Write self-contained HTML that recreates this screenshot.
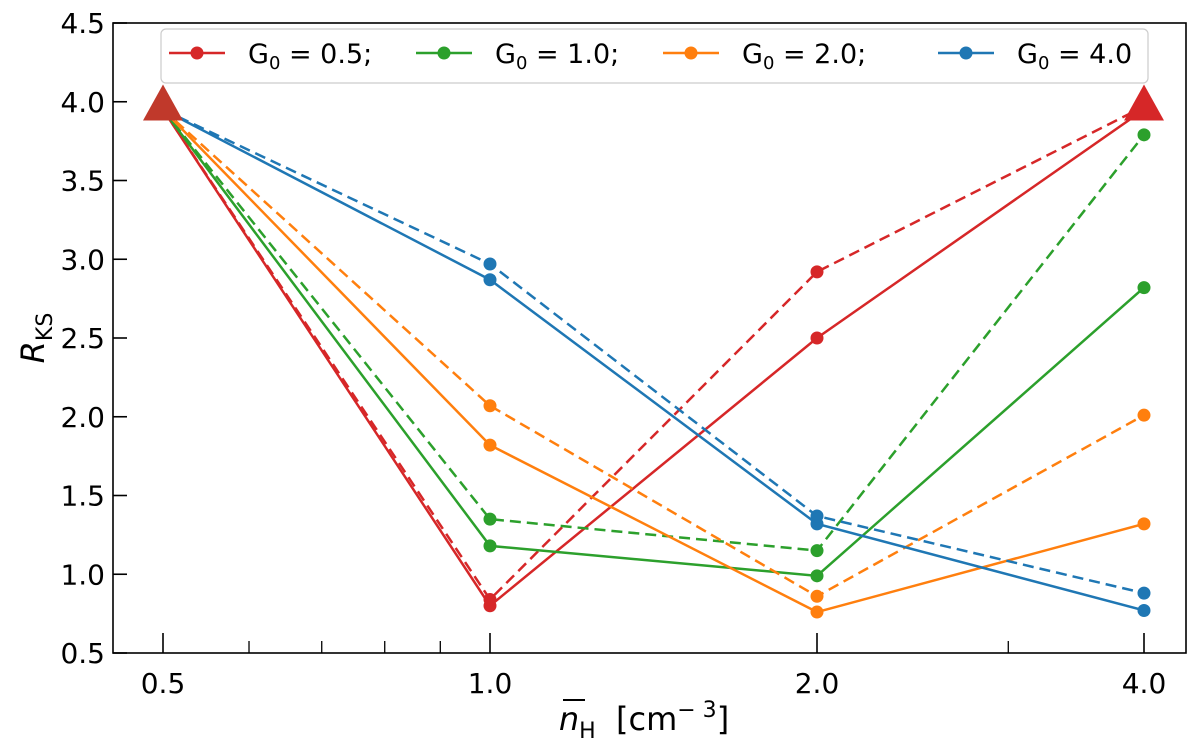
<!DOCTYPE html>
<html><head><meta charset="utf-8"><style>
body{margin:0;background:#fff;}
svg{display:block;font-family:"DejaVu Sans","Liberation Sans",sans-serif;}
</style></head><body>
<svg id="chart" width="1200" height="746" viewBox="0 0 1200 746" xmlns="http://www.w3.org/2000/svg">
<g id="plot"></g>
</svg>
<script>
const xCats=[0.5,1.0,2.0,4.0];
const xTickLabels=["0.5","1.0","2.0","4.0"];
const minorTicks=[0.6,0.7,0.8,0.9,3.0];
const yTicks=[0.5,1.0,1.5,2.0,2.5,3.0,3.5,4.0,4.5];
const yTickLabels=["0.5","1.0","1.5","2.0","2.5","3.0","3.5","4.0","4.5"];
const redSolid=[3.95,0.80,2.50,3.95];
const redDashed=[3.95,0.84,2.92,3.97];
const greenSolid=[3.95,1.18,0.99,2.82];
const greenDashed=[3.95,1.35,1.15,3.79];
const orangeSolid=[3.95,1.82,0.76,1.32];
const orangeDashed=[3.95,2.07,0.86,2.01];
const blueSolid=[3.95,2.87,1.32,0.77];
const blueDashed=[3.95,2.97,1.37,0.88];
const triangleX=[0.5,4.0];
const triangleY=[3.97,3.97];
const legendLabels=["0.5;","1.0;","2.0;","4.0"];

const NS="http://www.w3.org/2000/svg";
const L=113,R=1186,T=23,B=653;
const x=v=>163+327*Math.log2(v/0.5);
const y=v=>B-(v-0.5)*157.5;
const g=document.getElementById('plot');
function mk(t,a,p){const e=document.createElementNS(NS,t);for(const k in a)e.setAttribute(k,a[k]);(p||g).appendChild(e);return e;}

const series=[
 {d:redSolid,c:"#d62728",dash:null,n:"red-solid"},
 {d:redDashed,c:"#d62728",dash:"11,6",n:"red-dashed"},
 {d:greenSolid,c:"#2ca02c",dash:null,n:"green-solid"},
 {d:greenDashed,c:"#2ca02c",dash:"11,6",n:"green-dashed"},
 {d:orangeSolid,c:"#ff7f0e",dash:null,n:"orange-solid"},
 {d:orangeDashed,c:"#ff7f0e",dash:"11,6",n:"orange-dashed"},
 {d:blueSolid,c:"#1f77b4",dash:null,n:"blue-solid"},
 {d:blueDashed,c:"#1f77b4",dash:"11,6",n:"blue-dashed"}];
series.forEach(s=>{
 const pts=s.d.map((v,i)=>x(xCats[i])+","+y(v)).join(" ");
 const pl=mk('polyline',{points:pts,fill:"none",stroke:s.c,"stroke-width":2.5});
 
 
 if(s.dash)pl.setAttribute('stroke-dasharray',s.dash);
 s.d.forEach((v,i)=>{if(i===0)return;
  const c=mk('circle',{cx:x(xCats[i]),cy:y(v),r:6.5,fill:s.c});
  
  
 });
});
triangleX.forEach((tx,i)=>{
 const cx=x(tx),cy=y(triangleY[i]);
 const p=mk('polygon',{points:`${cx},${cy-22} ${cx-20},${cy+14} ${cx+20},${cy+14}`,fill:i===0?"#c0392b":"#d62728"});
 
 
});
const fr=mk('rect',{x:L,y:T,width:R-L,height:B-T,fill:"none",stroke:"#000","stroke-width":1.6});


yTicks.forEach((v,i)=>{
 const t=mk('line',{x1:L,x2:L+14,y1:y(v),y2:y(v),stroke:"#000","stroke-width":1.6});
 
 
 const tx=mk('text',{x:L-8,y:y(v)+10,"text-anchor":"end","font-size":28,fill:"#000"});
 tx.textContent=yTickLabels[i];
 
 
});
xCats.forEach((v,i)=>{
 const t=mk('line',{x1:x(v),x2:x(v),y1:B,y2:B-20,stroke:"#000","stroke-width":1.6});
 
 
 const tx=mk('text',{x:x(v),y:B+40,"text-anchor":"middle","font-size":28,fill:"#000"});
 tx.textContent=xTickLabels[i];
 
 
});
minorTicks.forEach(v=>{
 const t=mk('line',{x1:x(v),x2:x(v),y1:B,y2:B-12,stroke:"#000","stroke-width":1.3});
 
 
});
const lg=mk('g',{});


mk('rect',{x:161,y:29,width:987,height:54,rx:5,fill:"#fff","fill-opacity":0.85,stroke:"#ccc","stroke-width":1.2},lg);
const lc=["#d62728","#2ca02c","#ff7f0e","#1f77b4"];
const lx=[169,416,663,938];
legendLabels.forEach((lab,i)=>{
 const e=mk('g',{},lg);
 
 
 mk('line',{x1:lx[i],x2:lx[i]+56,y1:53,y2:53,stroke:lc[i],"stroke-width":2.5},e);
 mk('circle',{cx:lx[i]+28,cy:53,r:6.5,fill:lc[i]},e);
 const t=mk('text',{x:lx[i]+79,y:63,"font-size":27,fill:"#000"},e);
 t.innerHTML='G<tspan font-size="18" dy="6">0</tspan><tspan dy="-6"> = '+lab+'</tspan>';
});
const yl=mk('text',{x:0,y:0,transform:"translate(44,338) rotate(-90)","text-anchor":"middle","font-size":32,fill:"#000"});
yl.innerHTML='<tspan font-style="italic">R</tspan><tspan font-size="22" dy="8">KS</tspan>';


const xl=mk('text',{x:644,y:730,"text-anchor":"middle","font-size":32,fill:"#000"});
xl.innerHTML='<tspan font-style="italic">n</tspan><tspan font-size="22" dy="8">H</tspan><tspan dy="-8" xml:space="preserve">  [cm</tspan><tspan font-size="22" dy="-13">− 3</tspan><tspan dy="13">]</tspan>';


const ob=mk('line',{x1:563,x2:585,y1:700,y2:700,stroke:"#000","stroke-width":2});


</script>
</body></html>
